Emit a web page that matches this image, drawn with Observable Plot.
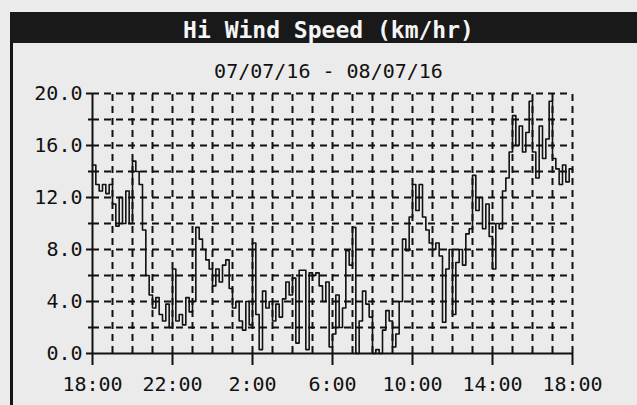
<!DOCTYPE html>
<html><head><meta charset="utf-8">
<script src="https://cdn.jsdelivr.net/npm/d3@7"></script>
<script src="https://cdn.jsdelivr.net/npm/@observablehq/plot@0.6"></script>
<style>
html,body{margin:0;padding:0;background:#ebebeb;width:637px;height:405px;overflow:hidden;position:relative;}
#frame{position:absolute;left:10px;top:12px;width:700px;height:420px;border-left:3px solid #151515;}
#titlebar{position:absolute;left:10px;top:12px;width:640px;height:31px;background:#191919;}
#title{position:absolute;left:0;width:657px;top:16px;text-align:center;color:#f5f5f5;font:bold 23px "DejaVu Sans Mono",monospace;line-height:28px;}
#subtitle{position:absolute;left:0;width:657px;top:59px;text-align:center;font:20px "DejaVu Sans Mono",monospace;line-height:24px;color:#111;}
#chart{position:absolute;left:0;top:50px;}
</style>
</head><body>
<div id="frame"></div>
<div id="titlebar"></div>
<div id="title">Hi Wind Speed (km/hr)</div>
<div id="subtitle">07/07/16 - 08/07/16</div>
<div id="chart"></div>
<script>
// wind speed (km/hr), one reading every 10 minutes from 18:00 to 18:00 next day
const windSpeed = [
14.5,13,12.5,13,12.3,13,11.5,9.8,12,10,12.5,10,
14.8,14,13,9.5,6,4.5,3.5,4.3,3,2.5,3.8,2,
6.5,2.5,3,2.2,4.3,3.2,4,9.7,8.8,8,7.2,6.5,
5.2,6.5,5.5,6.8,7.2,5,3.5,4,2.5,1.8,4,2.2,
8.5,3,0.3,4.8,3.5,4,2.5,3.8,2.8,4.2,5.5,4.5,
5.8,0.8,6.4,6.4,0.3,6.2,6,6.2,5.2,4,5.5,0.5,
1.5,4.5,2,3.5,7.9,6.8,9.7,0,2.5,4.8,3.8,2.8,
0,0.3,0,1.8,3.3,2.5,0.5,1.5,4,8.8,7.9,10.5,
13,11,13,10.5,9.5,8.5,8,8.5,7.5,2.4,6.5,8,
3,7,8,6.8,9.2,9.6,13.7,11,12,9.6,11.5,9,
6.5,10,9.6,12.5,13.5,15.5,18.3,16,17.5,15.5,17,19.4,
15.5,13.5,17.5,15,16.5,19.4,15,14.2,13,14.5,13.2,14.2,
14
];
const stepMinutes = 10;
const xTickHours = [0, 4, 8, 12, 16, 20, 24];
const xTickLabels = ["18:00", "22:00", "2:00", "6:00", "10:00", "14:00", "18:00"];
const yTicks = [0, 4, 8, 12, 16, 20];
const yGrid = [2, 4, 6, 8, 10, 12, 14, 16, 18, 20];
const xGrid = d3.range(1, 25);

const data = windSpeed.map((v, i) => ({hour: i * stepMinutes / 60, speed: v}));

const chart = Plot.plot({
  width: 637,
  height: 355,
  marginLeft: 92,
  marginRight: 65,
  marginTop: 43,
  marginBottom: 52,
  style: {fontFamily: '"DejaVu Sans Mono", monospace', fontSize: "20px", color: "#111", background: "transparent", overflow: "visible"},
  x: {domain: [0, 24], label: null},
  y: {domain: [0, 20], label: null},
  marks: [
    Plot.ruleY(yGrid, {stroke: "#111", strokeWidth: 2, strokeDasharray: "7,5"}),
    Plot.ruleX(xGrid, {y1: 0, y2: 20, stroke: "#111", strokeWidth: 2, strokeDasharray: "7,5"}),
    Plot.line(data, {x: "hour", y: "speed", curve: "step-after", stroke: "#111", strokeWidth: 1.6}),
    Plot.ruleX([0], {y1: 0, y2: 20, stroke: "#111", strokeWidth: 2}),
    Plot.ruleY([0], {x1: 0, x2: 24, stroke: "#111", strokeWidth: 2}),
    Plot.axisY(yGrid.filter(d => !yTicks.includes(d)), {tickSize: 4, tickFormat: () => "", label: null, stroke: "#111", strokeWidth: 2}),
    Plot.axisY(yTicks, {tickSize: 6, tickPadding: 4, tickFormat: d => d.toFixed(1), label: null, stroke: "#111", strokeWidth: 2, fill: "#111"}),
    Plot.axisX(xTickHours, {tickSize: 12, tickPadding: 11, tickFormat: (d, i) => xTickLabels[i], label: null, stroke: "#111", strokeWidth: 2, fill: "#111"})
  ]
});
document.getElementById("chart").appendChild(chart);
</script>
</body></html>
